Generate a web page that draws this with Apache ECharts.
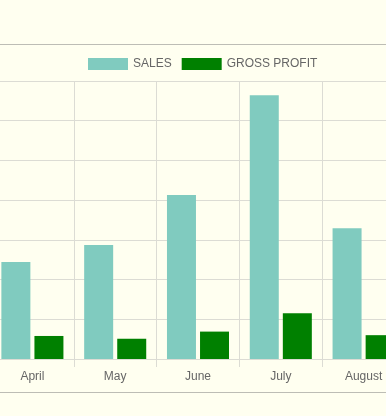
<!DOCTYPE html>
<html><head><meta charset="utf-8">
<script src="https://cdn.jsdelivr.net/npm/echarts@6/dist/echarts.min.js"></script>
<style>html,body{margin:0;padding:0;background:#fffff0;overflow:hidden;width:386px;height:416px;}#c{width:414px;height:416px;margin-left:-9px;}</style>
</head><body><div id="c"></div>
<script>
const categories = ['April', 'May', 'June', 'July', 'August'];
const sales = [24.4, 28.7, 41.3, 66.4, 32.9];
const grossProfit = [5.8, 5.1, 6.9, 11.5, 6.0];
const seriesNames = ['SALES', 'GROSS PROFIT'];

const chart = echarts.init(document.getElementById('c'));
chart.setOption({
  backgroundColor: '#fffff0',
  animation: false,
  textStyle: { fontFamily: '"Liberation Sans", Arial, sans-serif' },
  legend: {
    left: 97, top: 58, padding: 0,
    itemWidth: 40, itemHeight: 12, itemGap: 10,
    icon: 'rect',
    textStyle: { color: '#666', fontSize: 12 },
    data: seriesNames
  },
  grid: { left: 0, right: 0, top: 81, bottom: 57, containLabel: false },
  xAxis: {
    type: 'category',
    data: categories,
    axisLine: { show: true, lineStyle: { color: '#dcdcd4', width: 1 } },
    axisTick: { show: true, length: 8, lineStyle: { color: '#dcdcd4' } },
    axisLabel: { color: '#666', fontSize: 12, margin: 12 },
    splitLine: { show: true, lineStyle: { color: '#dcdcd4', width: 1 } }
  },
  yAxis: {
    type: 'value', min: 0, max: 70, interval: 10,
    axisLabel: { show: false }, axisLine: { show: false }, axisTick: { show: false },
    splitLine: { show: true, lineStyle: { color: '#dcdcd4', width: 1 } }
  },
  series: [
    { name: seriesNames[0], type: 'bar', data: sales, barWidth: 29, barGap: '14%',
      itemStyle: { color: '#80cbbf' } },
    { name: seriesNames[1], type: 'bar', data: grossProfit, barWidth: 29,
      itemStyle: { color: '#008000' } }
  ],
  graphic: [
    { type: 'line', shape: { x1: 0, y1: 44.5, x2: 414, y2: 44.5 }, style: { stroke: '#bdbdb5', lineWidth: 1 } },
    { type: 'line', shape: { x1: 0, y1: 392.5, x2: 414, y2: 392.5 }, style: { stroke: '#bdbdb5', lineWidth: 1 } }
  ]
});
</script></body></html>
